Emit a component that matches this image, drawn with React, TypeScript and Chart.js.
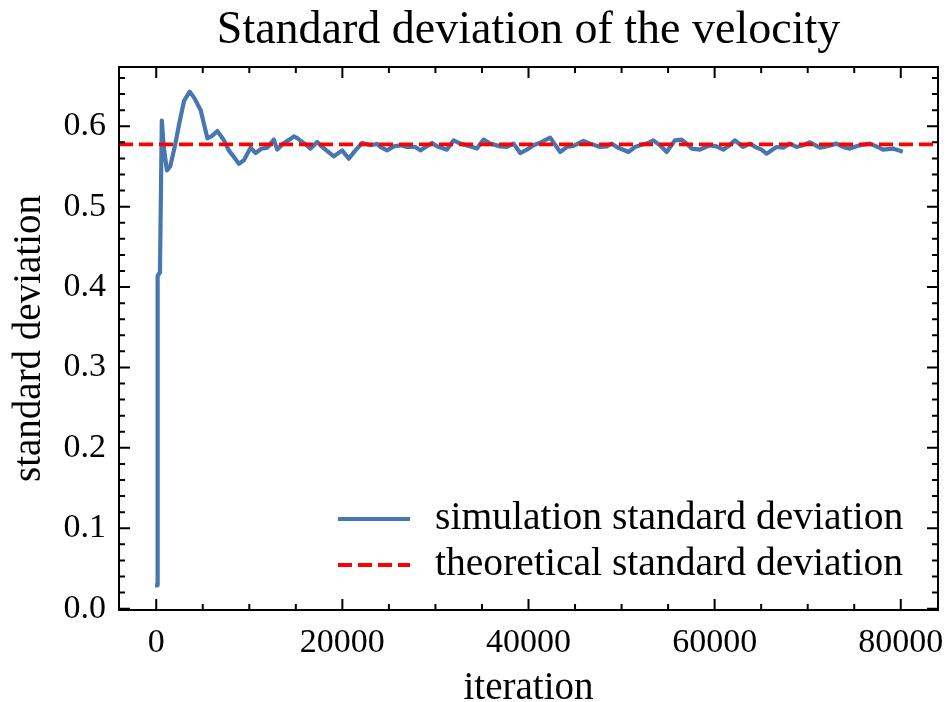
import React, { useEffect, useRef } from "react";
import { Chart, registerables } from "chart.js";

Chart.register(...registerables);

// ---- data ----
const iterations = [
  100, 150, 400, 600, 800, 1150, 1500, 2000, 2500, 3000, 3600, 4100, 4775, 5500,
  6000, 6567, 7275, 7800, 8348, 8884, 9421, 10140, 10676, 11300, 11931, 12640,
  13004, 13712, 14400, 14785, 15200, 15504, 16000, 16577, 17292, 17650, 18186,
  19080, 19974, 20689, 21405, 22120, 23015, 23730, 24088, 24803, 25519, 26234,
  26950, 27843, 28380, 29632, 30168, 31241, 31956, 32672, 33745, 34460, 35176,
  35891, 36964, 37679, 38394, 39110, 39826, 40541, 41256, 42329, 43402, 44117,
  44833, 45905, 46620, 47693, 48409, 48945, 49481, 50733, 51448, 52164, 52700,
  53416, 54131, 54846, 55740, 56455, 56991, 57528, 58422, 59495, 60210, 60925,
  61462, 62177, 63071, 63787, 64502, 65039, 65575, 66648, 67363, 68079, 68794,
  69509, 70225, 71298, 72013, 73086, 73801, 74517, 75590, 76663, 77378, 78094,
  79167, 80000,
];
const simStd = [
  0.029, 0.414, 0.418, 0.607, 0.575, 0.545, 0.55, 0.575, 0.605, 0.632, 0.643,
  0.635, 0.62, 0.585, 0.588, 0.594, 0.5825, 0.57, 0.5617, 0.5534, 0.5576, 0.5734,
  0.5667, 0.572, 0.5734, 0.5834, 0.571, 0.5792, 0.584, 0.5875, 0.585, 0.582,
  0.578, 0.5722, 0.5804, 0.5763, 0.5709, 0.5625, 0.57, 0.5597, 0.57, 0.5792,
  0.5763, 0.578, 0.5742, 0.57, 0.575, 0.5763, 0.5742, 0.5742, 0.57, 0.5792,
  0.575, 0.5709, 0.5825, 0.5784, 0.575, 0.5722, 0.5834, 0.5784, 0.575, 0.5742,
  0.5784, 0.5667, 0.5709, 0.5763, 0.5796, 0.5859, 0.5679, 0.5742, 0.5755,
  0.5817, 0.5784, 0.5742, 0.575, 0.5784, 0.5742, 0.568, 0.5742, 0.5771, 0.5784,
  0.5825, 0.5763, 0.568, 0.5825, 0.5834, 0.5784, 0.5722, 0.5709, 0.5763, 0.575,
  0.5709, 0.575, 0.5825, 0.5742, 0.5784, 0.5734, 0.5709, 0.5659, 0.5742, 0.5734,
  0.5784, 0.5742, 0.5763, 0.5801, 0.5734, 0.575, 0.5784, 0.5742, 0.5722, 0.5763,
  0.5784, 0.575, 0.5709, 0.5722, 0.5692,
];
const theoreticalStd = 0.57735;

const seriesLabels = ["simulation standard deviation", "theoretical standard deviation"];
const chartTitle = "Standard deviation of the velocity";
const xAxisTitle = "iteration";
const yAxisTitle = "standard deviation";

const xTickValues = [0, 20000, 40000, 60000, 80000];
const yTickValues = [0, 0.1, 0.2, 0.3, 0.4, 0.5, 0.6];
const xMinorStep = 5000;
const yMinorStep = 0.02;
const xRange = [-4000, 84000];
const yRange = [-0.0017, 0.6737];

// ---- styles ----
const SERIF = "'Liberation Serif', 'Times New Roman', serif";
const BLUE = "rgb(70,120,175)";
const RED = "#ff0000";
const LINE_W = 4.2;
const DASH = [14, 6];

const frameTicksPlugin = {
  id: "frameTicks",
  afterDatasetsDraw(chart: any) {
    const { ctx, chartArea, scales } = chart;
    const { left, right, top, bottom } = chartArea;
    const xs = scales.x;
    const ys = scales.y;
    const MAJ = 11;
    const MIN = 6;
    ctx.save();
    ctx.strokeStyle = "#000";
    ctx.lineWidth = 2;
    ctx.lineCap = "butt";
    const vx = (p: number, len: number) => {
      ctx.beginPath();
      ctx.moveTo(p, bottom);
      ctx.lineTo(p, bottom - len);
      ctx.moveTo(p, top);
      ctx.lineTo(p, top + len);
      ctx.stroke();
    };
    const hy = (p: number, len: number) => {
      ctx.beginPath();
      ctx.moveTo(left, p);
      ctx.lineTo(left + len, p);
      ctx.moveTo(right, p);
      ctx.lineTo(right - len, p);
      ctx.stroke();
    };
    for (let v = Math.ceil(xs.min / xMinorStep) * xMinorStep; v <= xs.max; v += xMinorStep) {
      if (xTickValues.includes(v)) continue;
      vx(xs.getPixelForValue(v), MIN);
    }
    xTickValues.forEach((v) => vx(xs.getPixelForValue(v), MAJ));
    for (let i = Math.ceil(ys.min / yMinorStep); i * yMinorStep <= ys.max; i++) {
      const v = i * yMinorStep;
      const t = v * 10;
      if (Math.abs(t - Math.round(t)) < 1e-6) continue;
      hy(ys.getPixelForValue(v), MIN);
    }
    yTickValues.forEach((v) => hy(ys.getPixelForValue(v), MAJ));
    ctx.strokeRect(left, top, right - left, bottom - top);
    ctx.restore();
  },
};

const legendPlugin = {
  id: "innerLegend",
  afterDraw(chart: any) {
    const { ctx, chartArea } = chart;
    const x0 = chartArea.right - 600;
    const handleLen = 72;
    const textX = x0 + 97;
    const rows = [chartArea.bottom - 91, chartArea.bottom - 45];
    ctx.save();
    chart.data.datasets.forEach((ds: any, i: number) => {
      const y = rows[i];
      ctx.beginPath();
      ctx.strokeStyle = ds.borderColor;
      ctx.lineWidth = ds.borderWidth;
      ctx.setLineDash(ds.borderDash || []);
      ctx.lineCap = "butt";
      ctx.moveTo(x0, y);
      ctx.lineTo(x0 + handleLen, y);
      ctx.stroke();
      ctx.setLineDash([]);
      ctx.fillStyle = "#000";
      ctx.font = `39.6px ${SERIF}`;
      ctx.textBaseline = "middle";
      ctx.textAlign = "left";
      ctx.fillText(ds.label, textX, y);
    });
    ctx.restore();
  },
};

export default function App() {
  const canvasRef = useRef<HTMLCanvasElement | null>(null);

  useEffect(() => {
    if (!canvasRef.current) return;
    const chart = new Chart(canvasRef.current, {
      type: "line",
      data: {
        datasets: [
          {
            label: seriesLabels[0],
            data: iterations.map((x, i) => ({ x, y: simStd[i] })),
            borderColor: BLUE,
            backgroundColor: BLUE,
            borderWidth: LINE_W,
            pointRadius: 0,
            tension: 0,
            borderJoinStyle: "round",
            borderCapStyle: "square",
            order: 1,
          },
          {
            label: seriesLabels[1],
            data: [
              { x: xRange[0], y: theoreticalStd },
              { x: xRange[1], y: theoreticalStd },
            ],
            borderColor: RED,
            backgroundColor: RED,
            borderWidth: 3.8,
            borderDash: DASH,
            pointRadius: 0,
            tension: 0,
            order: 0,
          },
        ],
      },
      options: {
        animation: false,
        responsive: false,
        events: [],
        layout: { padding: { left: 0, right: 11, top: 0, bottom: 0 } },
        plugins: {
          legend: { display: false },
          tooltip: { enabled: false },
          title: {
            display: true,
            fullSize: false,
            text: chartTitle,
            color: "#000",
            font: { family: SERIF, size: 46, weight: "normal", lineHeight: 1.2 },
            padding: { top: 3, bottom: 8.8 },
          },
        },
        scales: {
          x: {
            type: "linear",
            min: xRange[0],
            max: xRange[1],
            grid: { display: false, drawTicks: false },
            border: { display: false },
            afterBuildTicks: (scale: any) => {
              scale.ticks = xTickValues.map((value) => ({ value }));
            },
            afterFit: (scale: any) => {
              scale.height = 92;
              scale.paddingLeft = 0;
              scale.paddingRight = 0;
            },
            ticks: {
              color: "#000",
              padding: 13,
              maxRotation: 0,
              autoSkip: false,
              font: { family: SERIF, size: 34 },
              callback: (v: any) => String(v),
            },
            title: {
              display: true,
              text: xAxisTitle,
              color: "#000",
              font: { family: SERIF, size: 39, lineHeight: 0.8 },
              padding: { top: 0, bottom: -2 },
            },
          },
          y: {
            type: "linear",
            min: yRange[0],
            max: yRange[1],
            grid: { display: false, drawTicks: false },
            border: { display: false },
            afterBuildTicks: (scale: any) => {
              scale.ticks = yTickValues.map((value) => ({ value }));
            },
            afterFit: (scale: any) => {
              scale.width = 119;
              scale.paddingTop = 0;
              scale.paddingBottom = 0;
            },
            ticks: {
              color: "#000",
              padding: 13,
              autoSkip: false,
              font: { family: SERIF, size: 34 },
              callback: (v: any) => Number(v).toFixed(1),
            },
            title: {
              display: true,
              text: yAxisTitle,
              color: "#000",
              font: { family: SERIF, size: 39, lineHeight: 1.2 },
              padding: { top: 6, bottom: 0 },
            },
          },
        },
      } as any,
      plugins: [frameTicksPlugin, legendPlugin],
    });
    return () => chart.destroy();
  }, []);

  return (
    <div style={{ position: "absolute", left: 0, top: 0, width: 949, height: 702, background: "#fff" }}>
      <canvas ref={canvasRef} width={949} height={702} style={{ display: "block" }} />
    </div>
  );
}
